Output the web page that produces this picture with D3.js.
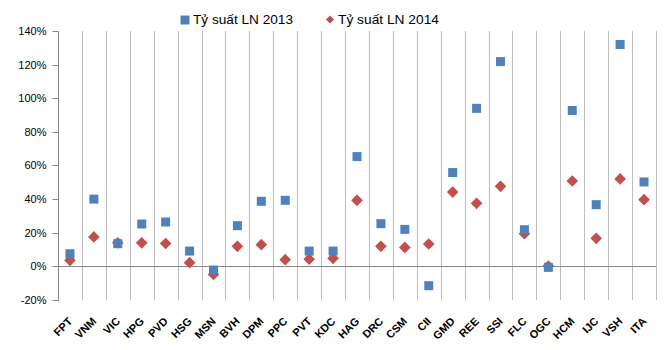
<!DOCTYPE html>
<html>
<head>
<meta charset="utf-8">
<script src="https://cdn.jsdelivr.net/npm/d3@7"></script>
<style>
  body { margin: 0; background: #fff; }
  svg { display: block; font-family: "Liberation Sans", Arial, sans-serif; }
</style>
</head>
<body>
<div id="chart"></div>
<script>
var categories = ["FPT", "VNM", "VIC", "HPG", "PVD", "HSG", "MSN", "BVH", "DPM", "PPC", "PVT", "KDC", "HAG",
                  "DRC", "CSM", "CII", "GMD", "REE", "SSI", "FLC", "OGC", "HCM", "IJC", "VSH", "ITA"];
var ty2013 = [0.075, 0.40, 0.135, 0.252, 0.264, 0.091, -0.022, 0.242, 0.387, 0.393, 0.091, 0.091, 0.653,
              0.254, 0.22, -0.115, 0.558, 0.94, 1.218, 0.218, -0.006, 0.927, 0.367, 1.32, 0.502];
var ty2014 = [0.036, 0.175, 0.14, 0.14, 0.136, 0.022, -0.048, 0.119, 0.129, 0.04, 0.043, 0.048, 0.393,
              0.119, 0.113, 0.133, 0.442, 0.375, 0.476, 0.194, 0.002, 0.508, 0.167, 0.52, 0.397];
var yTicks = [-0.2, 0, 0.2, 0.4, 0.6, 0.8, 1.0, 1.2, 1.4];
var seriesNames = ["Tỷ suất LN 2013", "Tỷ suất LN 2014"];

var W = 670, H = 350;
var plotL = 58, plotR = 656, plotT = 31, plotB = 300;
var blue = "#4F81BD", red = "#C0504D";

var svg = d3.select("#chart").append("svg")
    .attr("width", W).attr("height", H);

var x = d3.scaleBand().domain(categories).range([plotL, plotR]).padding(0);
var y = d3.scaleLinear().domain([-0.2, 1.4]).range([plotB, plotT]);

// vertical gridlines at category boundaries
var bounds = categories.map(function(c) { return x(c) + x.bandwidth(); });
svg.append("g").selectAll("line")
    .data(bounds)
    .enter().append("line")
    .attr("x1", function(d) { return Math.round(d) + 0.5; })
    .attr("x2", function(d) { return Math.round(d) + 0.5; })
    .attr("y1", plotT).attr("y2", plotB)
    .attr("stroke", "#bebebe").attr("stroke-width", 1);

// y axis
var yAxis = svg.append("g")
    .attr("transform", "translate(" + (plotL + 0.5) + ",0)")
    .call(d3.axisLeft(y).tickValues(yTicks).tickSize(6).tickPadding(6)
        .tickFormat(function(d) { return Math.round(d * 100) + "%"; }));
yAxis.select(".domain").attr("stroke", "#868686").attr("d", "M0," + (plotT + 0.5) + "V" + (plotB + 0.5));
yAxis.selectAll(".tick line").attr("stroke", "#868686");
yAxis.selectAll(".tick text").style("font-size", "11px").attr("fill", "#000");
yAxis.selectAll(".tick").attr("transform", function(d) { return "translate(0," + (Math.round(y(d)) + 0.5) + ")"; });

// zero line
svg.append("line")
    .attr("x1", plotL).attr("x2", plotR)
    .attr("y1", Math.round(y(0)) + 0.5).attr("y2", Math.round(y(0)) + 0.5)
    .attr("stroke", "#868686").attr("stroke-width", 1);

// x labels
svg.append("g").selectAll("text")
    .data(categories)
    .enter().append("text")
    .attr("transform", function(d) {
        return "translate(" + (x(d) + x.bandwidth() / 2 + 3) + "," + (plotB + 22) + ") rotate(-45)";
    })
    .attr("text-anchor", "end")
    .style("font-size", "11px")
    .style("font-weight", "bold")
    .attr("fill", "#000")
    .text(function(d) { return d; });

var diamond = d3.symbol().type(d3.symbolSquare).size(68);
var square = d3.symbol().type(d3.symbolSquare).size(81);

svg.append("g").selectAll("path")
    .data(ty2014)
    .enter().append("path")
    .attr("d", diamond)
    .attr("transform", function(d, i) {
        return "translate(" + (x(categories[i]) + x.bandwidth() / 2) + "," + y(d) + ") rotate(45)";
    })
    .attr("fill", red);

svg.append("g").selectAll("path")
    .data(ty2013)
    .enter().append("path")
    .attr("d", square)
    .attr("transform", function(d, i) {
        return "translate(" + (x(categories[i]) + x.bandwidth() / 2) + "," + y(d) + ")";
    })
    .attr("fill", blue);

// legend
var legend = svg.append("g");
legend.append("path").attr("d", square)
    .attr("transform", "translate(185,20)").attr("fill", blue);
legend.append("text").attr("x", 193).attr("y", 24)
    .attr("textLength", 100).attr("lengthAdjust", "spacingAndGlyphs")
    .style("font-size", "13px").attr("fill", "#000").text(seriesNames[0]);
legend.append("path").attr("d", d3.symbol().type(d3.symbolSquare).size(34))
    .attr("transform", "translate(330,19.5) rotate(45)").attr("fill", red);
legend.append("text").attr("x", 338).attr("y", 24)
    .attr("textLength", 101).attr("lengthAdjust", "spacingAndGlyphs")
    .style("font-size", "13px").attr("fill", "#000").text(seriesNames[1]);
</script>
</body>
</html>
